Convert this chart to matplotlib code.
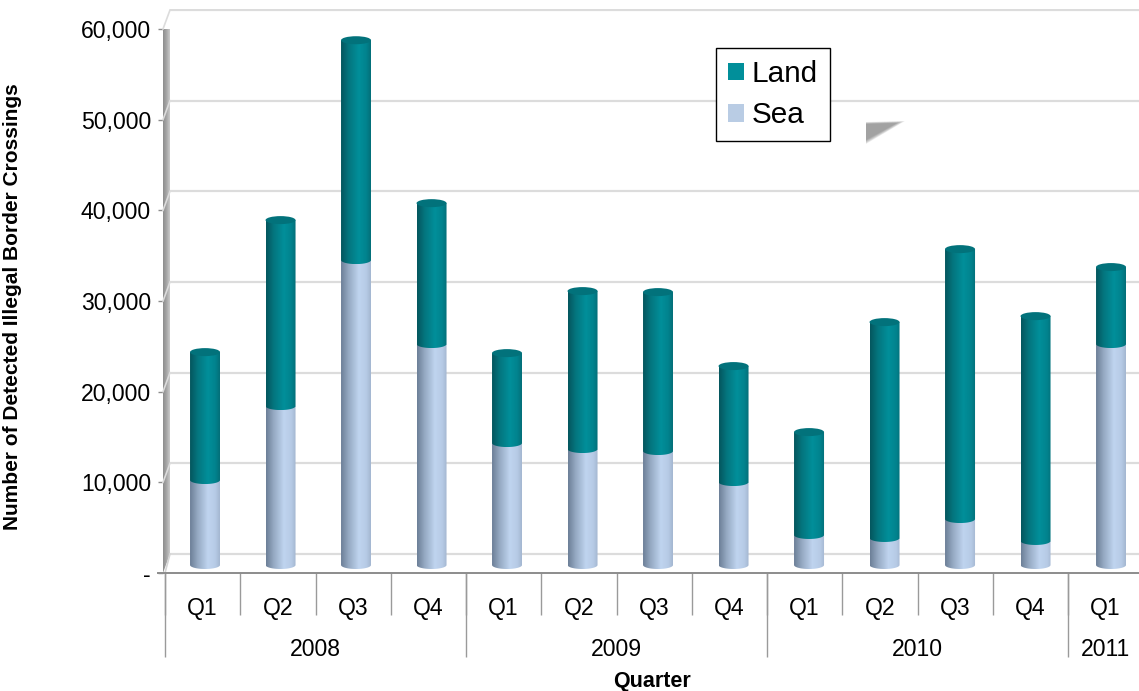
import numpy as np
import matplotlib
matplotlib.use("Agg")
import matplotlib.pyplot as plt
from matplotlib.colors import LinearSegmentedColormap
from matplotlib.patches import Patch, Polygon, Ellipse, PathPatch
from matplotlib.path import Path
from matplotlib.transforms import Affine2D

plt.rcParams['font.family'] = ['Liberation Sans', 'DejaVu Sans']

quarters = ['Q1','Q2','Q3','Q4','Q1','Q2','Q3','Q4','Q1','Q2','Q3','Q4','Q1']
years = ['2008','2009','2010','2011']
year_counts = [4,4,4,1]
sea = [9370,17530,33630,24370,13450,12790,12570,9150,3310,2980,5070,2650,24370]
total = [23480,38040,57880,39910,23370,30210,30100,21940,14660,26790,34840,27450,32860]
land = [t-s for t,s in zip(total,sea)]
yticks = [0,10000,20000,30000,40000,50000,60000]
yticklabels = ['-','10,000','20,000','30,000','40,000','50,000','60,000']

W,H = 1139,691
fig = plt.figure(figsize=(W/100,H/100),dpi=100,facecolor='white')
# axes pixel geometry
L,R,T,B = 163,1139,9,573
ax = fig.add_axes([L/W,1-B/H,(R-L)/W,(B-T)/H])
PXX = 75.25; PXY = 544/60000
ax.set_xlim(-2/PXX,(R-165)/PXX)
ax.set_ylim(0,(B-T)/PXY)
px = Affine2D().scale(1,-1).translate(0,H)
for s in ax.spines.values(): s.set_visible(False)
ax.patch.set_alpha(0)

# floor and back wall grid
depth_y = 19/PXY
ax.hlines([v+depth_y for v in yticks],5/PXX,ax.get_xlim()[1],colors='#dcdcdc',lw=1.6,zorder=1)
for v in yticks[1:]:
    y0 = 573-v*PXY; y1 = y0-19
    fig.add_artist(plt.Line2D([163,170],[y0,y1],transform=px,color='#dcdcdc',lw=1.2,zorder=1))
fig.add_artist(plt.Line2D([165,170],[573,554],transform=px,color='#d5d5d5',lw=1.2))
# side wall
wall = LinearSegmentedColormap.from_list('w',['#8e8e8e','#a6a6a6','#c9c9c9'])
im = ax.imshow(np.linspace(0,1,20)[None,:],cmap=wall,aspect='auto',
               extent=(-2/PXX,5/PXX,0,(573-29)/PXY),zorder=1.5)
cp = Polygon([(163,29),(170,29),(170,554),(163,573)],transform=px)
im.set_clip_path(cp)

# cylinders
sea_cm = LinearSegmentedColormap.from_list('s',[(0,'#6d8098'),(.25,'#95a9c2'),(.6,'#bfd4ef'),(.85,'#b7cbe6'),(1,'#a4b7d1')])
land_cm = LinearSegmentedColormap.from_list('l',[(0,'#04565e'),(.25,'#04757e'),(.6,'#018f9a'),(.85,'#01838e'),(1,'#046f79')])
bar_w = 30/PXX
ry = 4/PXY
grad = np.linspace(0,1,64)[None,:]
x_pos = [0.5+i*75.5/75.25+0.032 for i in range(len(sea))]
base = (573-565)/PXY

def cyl(xc,y0,y1,cm,z):
    rects = ax.bar(xc,y1-y0,bottom=y0,width=bar_w,color=cm(0.6),linewidth=0,zorder=z)
    t = np.linspace(np.pi,2*np.pi,30)
    xs = xc+bar_w/2*np.cos(t); ys = y0+ry*np.sin(t)
    verts = list(zip(xs,ys))+[(xc+bar_w/2,y1),(xc-bar_w/2,y1)]
    im = ax.imshow(grad,cmap=cm,aspect='auto',extent=(xc-bar_w/2,xc+bar_w/2,y0-ry,y1),zorder=z+.1)
    im.set_clip_path(Polygon(verts,closed=True,transform=ax.transData))
    rects[0].set_visible(False)

for i,xc in enumerate(x_pos):
    cyl(xc,base,base+sea[i],sea_cm,3)
    cyl(xc,base+sea[i],base+sea[i]+land[i],land_cm,4)
    ax.add_patch(Ellipse((xc,base+sea[i]+land[i]),bar_w,2*ry,facecolor='#02727b',edgecolor='none',zorder=5))

ax.set_xlim(-2/PXX,(R-165)/PXX)
ax.set_ylim(0,(B-T)/PXY)

# y axis
ax.set_yticks(yticks,yticklabels)
ax.tick_params(axis='y',length=3.6,width=1,color='#8c8c8c',labelsize=16.6,pad=5,left=True)
ax.set_ylabel('Number of Detected Illegal Border Crossings',fontsize=15,fontweight='bold',labelpad=0)
ax.yaxis.set_label_coords(22/W,0,transform=fig.transFigure)
ax.yaxis.label.set_y((691-307)/691)
ax.yaxis.label.set_transform(fig.transFigure)
ax.yaxis.label.set_position((22/W,(691-307)/691))

# front axis line
fig.add_artist(plt.Line2D([158,1139],[573,573],transform=px,color='#8c8c8c',lw=1.4,zorder=6))

# category axis
ax.set_xticks([i+.5 for i in range(len(quarters))],quarters)
ax.tick_params(axis='x',length=0,labelsize=16.6,pad=17)
edges = np.cumsum([0]+year_counts)
q_sec = ax.secondary_xaxis('bottom')
q_sec.set_xticks(list(range(len(quarters))),['']*len(quarters))
q_sec.tick_params(length=30,width=1,color='#9a9a9a')
q_sec.spines['bottom'].set_visible(False)
y_sec = ax.secondary_xaxis('bottom')
y_sec.set_xticks(edges[:-1],['']*(len(edges)-1))
y_sec.tick_params(length=60.5,width=1,color='#9a9a9a')
y_sec.spines['bottom'].set_visible(False)
y_lab = ax.secondary_xaxis('bottom')
y_lab.set_xticks([(a+b)/2 for a,b in zip(edges[:-1],edges[1:])],years)
y_lab.tick_params(length=0,labelsize=16.6,pad=47)
y_lab.spines['bottom'].set_visible(False)
fig.text(652/W,1-681/H,'Quarter',fontsize=15.5,fontweight='bold',ha='center',va='center')

# legend shadow
for k,a in zip(np.linspace(0,1,8),[.05]*8):
    fig.add_artist(Polygon([(866,122+2*k),(905-8*k,121+2*k),(866,144-4*k)],closed=True,transform=px,
                   facecolor='#555555',edgecolor='none',alpha=.09))

leg = ax.legend(handles=[Patch(facecolor='#018f9a',label='Land'),Patch(facecolor='#b9cce4',label='Sea')],
    loc='upper left',bbox_to_anchor=(716/W,1-48/H),bbox_transform=fig.transFigure,borderaxespad=0,
    fontsize=21.4,frameon=True,fancybox=False,framealpha=1,edgecolor='black',
    handlelength=.54,handleheight=.54,handletextpad=.26,borderpad=.4,labelspacing=.45)
leg.get_frame().set_linewidth(1)
leg.set_zorder(10)
for t in leg.get_patches(): t.set_linewidth(0)

fig.savefig('out.png',dpi=100)
